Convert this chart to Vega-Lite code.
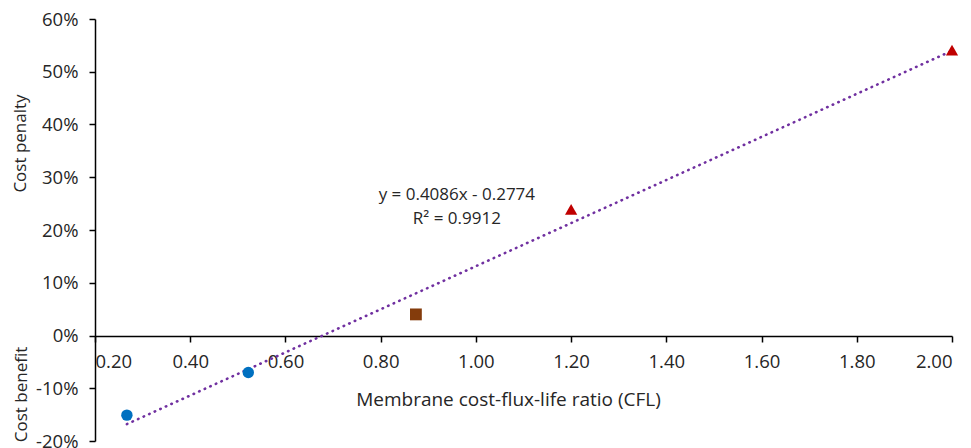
{
  "$schema": "https://vega.github.io/schema/vega-lite/v6.json",
  "width": 857,
  "height": 422,
  "autosize": {"type": "none"},
  "padding": {"left": 95, "top": 19, "right": 19, "bottom": 7},
  "background": "white",
  "config": {
    "view": {"stroke": null},
    "font": "Open Sans",
    "axis": {
      "domainColor": "#000000",
      "domainWidth": 1.5,
      "tickColor": "#000000",
      "tickWidth": 1.5,
      "tickSize": 6,
      "labelColor": "#262626",
      "labelFont": "Open Sans",
      "labelFontSize": 18.5,
      "titleColor": "#262626",
      "titleFont": "Open Sans",
      "titleFontSize": 17,
      "titleFontWeight": "normal",
      "grid": false
    }
  },
  "layer": [
    {
      "data": {"values": [{"cfl": 0.267, "cost": -0.168}, {"cfl": 2.0, "cost": 0.5398}]},
      "mark": {"type": "line", "color": "#7030A0", "strokeWidth": 2.6, "strokeCap": "round", "strokeDash": [0.5, 5.6]},
      "encoding": {
        "x": {
          "field": "cfl", "type": "quantitative",
          "scale": {"domain": [0.2, 2.0], "nice": false, "zero": false},
          "axis": {
            "values": [0.2, 0.4, 0.6, 0.8, 1.0, 1.2, 1.4, 1.6, 1.8, 2.0],
            "format": ".2f",
            "offset": -105,
            "labelPadding": 10,
            "title": "Membrane cost-flux-life ratio (CFL)",
            "titleFontSize": 19,
            "titleX": 413,
            "titleY": 63,
            "titleBaseline": "middle"
          }
        },
        "y": {
          "field": "cost", "type": "quantitative",
          "scale": {"domain": [-0.2, 0.6], "nice": false, "zero": false},
          "axis": {
            "orient": "left",
            "title": "Cost benefit",
            "labels": false,
            "ticks": false,
            "domain": false,
            "titleX": -74,
            "titleY": 375,
            "titleAngle": 270,
            "titleAlign": "center",
            "titleBaseline": "middle"
          }
        }
      }
    },
    {
      "data": {
        "values": [
          {"cfl": 0.267, "cost": -0.151, "series": "A"},
          {"cfl": 0.522, "cost": -0.070, "series": "A"},
          {"cfl": 0.874, "cost": 0.040, "series": "B"},
          {"cfl": 1.2, "cost": 0.239, "series": "C"},
          {"cfl": 2.0, "cost": 0.541, "series": "C"}
        ]
      },
      "mark": {"type": "point", "filled": true, "opacity": 1},
      "encoding": {
        "x": {"field": "cfl", "type": "quantitative"},
        "y": {
          "field": "cost", "type": "quantitative",
          "axis": {
            "orient": "left",
            "values": [-0.2, -0.1, 0, 0.1, 0.2, 0.3, 0.4, 0.5, 0.6],
            "labelExpr": "(datum.value < -0.001 ? '-' : '') + format(abs(datum.value), '.0%')",
            "labelPadding": 11,
            "title": "Cost penalty",
            "titleX": -75,
            "titleY": 124,
            "titleAngle": 270,
            "titleAlign": "center",
            "titleBaseline": "middle"
          }
        },
        "shape": {"field": "series", "type": "nominal", "scale": {"domain": ["A", "B", "C"], "range": ["circle", "square", "triangle-up"]}, "legend": null},
        "color": {"field": "series", "type": "nominal", "scale": {"domain": ["A", "B", "C"], "range": ["#0070C0", "#843C0C", "#C00000"]}, "legend": null},
        "size": {"field": "series", "type": "nominal", "scale": {"domain": ["A", "B", "C"], "range": [130, 150, 220]}, "legend": null}
      }
    },
    {
      "data": {"values": [{}]},
      "mark": {
        "type": "text",
        "text": ["y = 0.4086x - 0.2774", "R² = 0.9912"],
        "font": "Open Sans",
        "fontSize": 17,
        "lineHeight": 24,
        "color": "#262626",
        "align": "center",
        "baseline": "middle"
      },
      "encoding": {
        "x": {"datum": 0.96, "type": "quantitative"},
        "y": {"datum": 0.266, "type": "quantitative", "axis": null}
      }
    }
  ],
  "resolve": {"axis": {"y": "independent"}}
}
